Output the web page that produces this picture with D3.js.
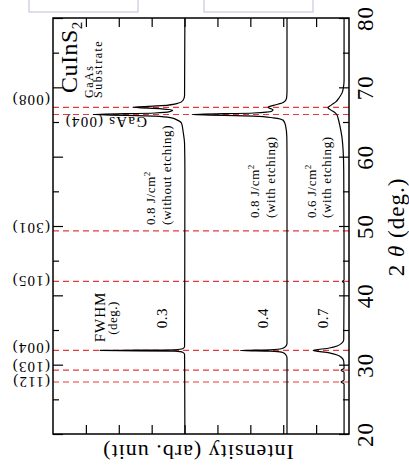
<!DOCTYPE html>
<html>

<head>
  <meta charset="utf-8">
  <title>XRD CuInS2</title>
  <script src="https://cdn.jsdelivr.net/npm/d3@7"></script>
  <style>
    body { margin: 0; background: #fff; }
    text { font-family: "Liberation Serif", "Times New Roman", Tinos, "Nimbus Roman", Times, serif; fill: #000; }
  </style>
</head>

<body>
  <svg width="409" height="470" id="mainsvg" style="display: block;"></svg>
  <script>
    // 2theta (deg) and intensity (arb. unit)
    const trace1 = [
      [20, 4.99], [31.5, 5.0], [31.8, 5.06], [31.95, 5.3], [32.05, 7.57], [32.15, 5.3], [32.3, 5.06], [32.6, 5.0],
      [58, 4.99], [61.9, 5.0], [63.5, 5.04], [64.8, 5.09], [65.35, 5.25], [65.6, 5.4], [65.85, 5.9], [66.08, 7.78],
      [66.3, 5.9], [66.5, 5.45], [66.7, 5.36], [66.9, 5.7], [67.12, 6.57], [67.35, 5.7], [67.7, 5.2], [68.1, 5.05],
      [68.8, 5.0], [80, 4.99]
    ];
    const trace2 = [
      [20, 1.885], [31.0, 1.885], [31.5, 1.93], [31.8, 2.05], [31.95, 2.4], [32.05, 3.31], [32.15, 2.4], [32.3, 2.05],
      [32.6, 1.93], [33.1, 1.885], [60, 1.885], [62.8, 1.89], [64.5, 1.93], [65.25, 2.0], [65.6, 2.3], [65.85, 2.9],
      [66.08, 4.77], [66.3, 2.9], [66.55, 2.35], [66.75, 2.31], [67.1, 2.46], [67.4, 2.3], [67.8, 2.0], [68.4, 1.9],
      [69.5, 1.885], [80, 1.885]
    ];
    const trace3 = [
      [20, 0.15], [27.2, 0.15], [27.5, 0.24], [27.8, 0.15], [28.9, 0.15], [29.2, 0.24], [29.5, 0.15], [30.5, 0.16],
      [31.0, 0.22], [31.4, 0.36], [31.7, 0.6], [32.05, 1.09], [32.4, 0.6], [32.7, 0.36], [33.1, 0.22], [33.6, 0.16],
      [41.8, 0.15], [42.0, 0.2], [42.2, 0.15], [58, 0.16], [61, 0.18], [63, 0.22], [64.5, 0.28], [65.5, 0.33],
      [66.05, 0.37], [66.4, 0.44], [66.75, 0.56], [67.05, 0.64], [67.4, 0.55], [67.9, 0.4], [68.5, 0.3], [69.2, 0.21],
      [70, 0.17], [71, 0.15], [80, 0.15]
    ];

    const peakAngles = [27.5, 29.2, 32.05, 42.0, 49.3, 66.08, 67.12];
    const peakLabels = ['(112)', '(103)', '(004)', '(105)', '(301)', 'GaAs (004)', '(008)'];

    const fluence = ['0.8', '0.8', '0.6'];
    const etching = ['(without etching)', '(with etching)', '(with etching)'];
    const fwhm = ['0.3', '0.4', '0.7'];

    const angleTicks = [20, 30, 40, 50, 60, 70, 80];
    const angleMinor = [25, 35, 45, 55, 65, 75];
    const intensityTicks = [1, 2, 3, 4, 5, 6, 7, 8];

    const svg = d3.select('#mainsvg');
    const margin = { left: 53, right: 349, top: 18, bottom: 434 };

    const y = d3.scaleLinear().domain([20, 80]).range([margin.bottom, margin.top]);
    const x = d3.scaleLinear().domain([0, 9]).range([margin.right, margin.left]);

    // boxes cut at the top edge
    svg.selectAll('rect.box').data([[29, 138], [204, 313]]).join('rect')
      .attr('class', 'box')
      .attr('x', d => d[0]).attr('y', -2)
      .attr('width', d => d[1] - d[0]).attr('height', 14)
      .attr('fill', 'none').attr('stroke', '#c3b8de').attr('stroke-width', 1);

    // red dashed reflection lines
    svg.append('g').selectAll('line').data(peakAngles).join('line')
      .attr('x1', margin.left).attr('x2', margin.right)
      .attr('y1', d => y(d)).attr('y2', d => y(d))
      .attr('stroke', '#e8383c').attr('stroke-width', 1.2)
      .attr('stroke-dasharray', '6,4');

    // spectra
    const line = d3.line()
      .x(d => x(d[1]))
      .y(d => y(d[0]))
      .curve(d3.curveMonotoneY);

    svg.append('g').selectAll('path').data([trace1, trace2, trace3]).join('path')
      .attr('fill', 'none')
      .attr('stroke', '#000')
      .attr('stroke-width', 1.2)
      .attr('d', d => line(d.slice().reverse()));

    // axes: ticks pointing inward
    const axes = svg.append('g');
    axes.append('g').attr('transform', `translate(${margin.left},0)`)
      .call(d3.axisRight(y).tickValues(angleTicks).tickSize(10).tickFormat(''));
    axes.append('g').attr('transform', `translate(${margin.left},0)`)
      .call(d3.axisRight(y).tickValues(angleMinor).tickSize(6).tickFormat(''));
    axes.append('g').attr('transform', `translate(${margin.right},0)`)
      .call(d3.axisLeft(y).tickValues(angleMinor).tickSize(6).tickFormat(''));
    const rightAxis = axes.append('g').attr('transform', `translate(${margin.right},0)`)
      .call(d3.axisRight(y).tickValues(angleTicks).tickSize(-10).tickFormat(d3.format('d')));
    rightAxis.selectAll('text')
      .attr('x', null).attr('dy', '0.35em')
      .attr('text-anchor', 'middle')
      .attr('transform', 'translate(16,0) rotate(-90)')
      .style('font-size', '23px').style('letter-spacing', '1px');
    axes.append('g').attr('transform', `translate(0,${margin.bottom})`)
      .call(d3.axisTop(x).tickValues(intensityTicks).tickSize(9).tickFormat(''));
    axes.append('g').attr('transform', `translate(0,${margin.top})`)
      .call(d3.axisBottom(x).tickValues(intensityTicks).tickSize(9).tickFormat(''));
    axes.selectAll('.domain').remove();
    axes.selectAll('g').attr('font-family', null).attr('font-size', null);
    axes.selectAll('line').attr('stroke', '#000').attr('stroke-width', 1.2);

    svg.append('rect')
      .attr('x', margin.left).attr('y', margin.top)
      .attr('width', margin.right - margin.left).attr('height', margin.bottom - margin.top)
      .attr('fill', 'none').attr('stroke', '#000').attr('stroke-width', 1.5);

    // reflection labels, upside down
    const labelShift = { '(112)': 0, '(103)': -3, '(004)': -2, '(105)': 0, '(301)': -3, 'GaAs (004)': 8, '(008)': -7 };
    svg.append('g').selectAll('text').data(peakAngles).join('text')
      .attr('transform', (d, i) => {
        const lx = peakLabels[i].startsWith('GaAs') ? 147 : 50;
        return `translate(${lx},${y(d) + labelShift[peakLabels[i]]}) rotate(180)`;
      })
      .attr('dy', '0.35em')
      .style('font-size', '15px')
      .style('letter-spacing', '1.2px')
      .text((d, i) => peakLabels[i]);

    // sample labels
    const sampleX = [[150, 166], [254, 270], [311, 326]];
    const sampleY = [225, 218, 218];
    const fwhmX = [162, 263, 323];
    fluence.forEach((f, i) => {
      const t = svg.append('text')
        .attr('transform', `translate(${sampleX[i][0]},${sampleY[i]}) rotate(-90)`)
        .attr('dy', '0.35em')
        .style('font-size', '13px').style('letter-spacing', '0.6px');
      t.append('tspan').text(`${f} J/cm`);
      t.append('tspan').attr('dy', -5).style('font-size', '9px').text('2');
      svg.append('text')
        .attr('transform', `translate(${sampleX[i][1]},${sampleY[i]}) rotate(-90)`)
        .attr('dy', '0.35em')
        .style('font-size', '13px').style('letter-spacing', '0.6px')
        .text(etching[i]);
      svg.append('text')
        .attr('transform', `translate(${fwhmX[i]},318) rotate(-90)`)
        .attr('dy', '0.35em').attr('text-anchor', 'middle')
        .style('font-size', '15px').style('letter-spacing', '0.5px')
        .text(fwhm[i]);
    });

    svg.append('text')
      .attr('transform', 'translate(100,317) rotate(-90)')
      .attr('dy', '0.35em').attr('text-anchor', 'middle')
      .style('font-size', '15px').style('letter-spacing', '1px')
      .text('FWHM');
    svg.append('text')
      .attr('transform', 'translate(112,318) rotate(-90)')
      .attr('dy', '0.35em').attr('text-anchor', 'middle')
      .style('font-size', '13px').style('letter-spacing', '0.5px')
      .text('(deg.)');

    const cis = svg.append('text')
      .attr('transform', 'translate(69,93) rotate(-90)')
      .attr('dy', '0.35em')
      .style('font-size', '24px').style('letter-spacing', '0.5px');
    cis.append('tspan').text('CuInS');
    cis.append('tspan').attr('dy', 5).style('font-size', '15px').text('2');
    svg.append('text')
      .attr('transform', 'translate(89,98) rotate(-90)')
      .attr('dy', '0.35em')
      .style('font-size', '12px').style('letter-spacing', '1.5px')
      .text('GaAs');
    svg.append('text')
      .attr('transform', 'translate(98,98) rotate(-90)')
      .attr('dy', '0.35em')
      .style('font-size', '12px').style('letter-spacing', '1.5px')
      .text('Substrate');

    // axis titles
    svg.append('text')
      .attr('transform', `translate(${(margin.left + margin.right) / 2 - 3},453) rotate(180)`)
      .attr('dy', '0.35em').attr('text-anchor', 'middle')
      .style('font-size', '22px').style('letter-spacing', '1px')
      .text('Intensity (arb. unit)');
    const tt = svg.append('text')
      .attr('transform', 'translate(396,227) rotate(-90)')
      .attr('dy', '0.35em').attr('text-anchor', 'middle')
      .style('font-size', '23px').style('letter-spacing', '1px');
    tt.append('tspan').text('2 ');
    tt.append('tspan').style('font-style', 'italic').text('θ');
    tt.append('tspan').text(' (deg.)');
  </script>
</body>

</html>
